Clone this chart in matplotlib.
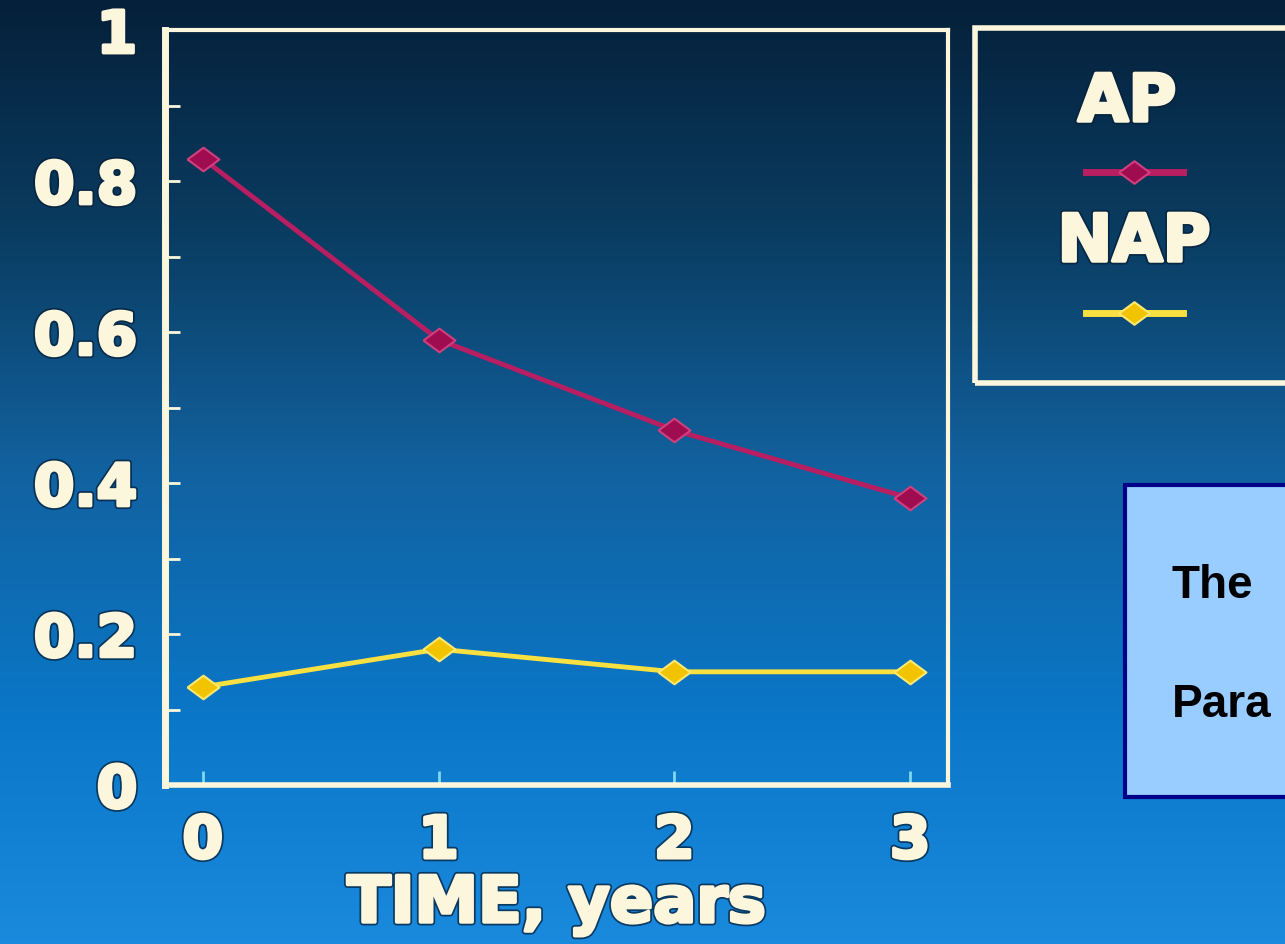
import numpy as np
import matplotlib
matplotlib.use("Agg")
import matplotlib.pyplot as plt
import matplotlib.patheffects as pe
from matplotlib.colors import LinearSegmentedColormap
from matplotlib.patches import Rectangle
from matplotlib.lines import Line2D

years = [0, 1, 2, 3]
ap = [0.83, 0.59, 0.47, 0.38]
nap = [0.13, 0.18, 0.15, 0.15]
y_ticks = [0, 0.2, 0.4, 0.6, 0.8, 1]
y_tick_labels = ["0", "0.2", "0.4", "0.6", "0.8", "1"]

cream = "#fcf7dc"
ap_line = "#b81e62"
ap_fill = "#a00c50"
nap_line = "#f8e040"
nap_fill = "#f2c400"
# heavy lettering with a soft dark halo
heavy = [pe.Stroke(linewidth=5, foreground="#06203a", alpha=0.75),
         pe.Stroke(linewidth=2.5, foreground=cream), pe.Normal()]

plt.rcParams["font.family"] = ["DejaVu Sans"]

fig = plt.figure(figsize=(12.85, 9.44), dpi=100)

# slide background: dark navy at the top fading to bright blue
bg = fig.add_axes([0, 0, 1, 1], zorder=-10)
grad = LinearSegmentedColormap.from_list(
    "slide", ["#05203a", "#0a3d62", "#1262a0", "#0a76c6", "#1a8ade"])
bg.imshow(np.linspace(0, 1, 256).reshape(-1, 1), aspect="auto", cmap=grad,
          extent=[0, 1, 0, 1], origin="upper")
bg.axis("off")

ax = fig.add_axes([0.1284, 0.1684, 0.6093, 0.7996])
ax.patch.set_alpha(0)

diamond = [(-1.35, 0), (0, 1), (1.35, 0), (0, -1), (-1.35, 0)]
ax.plot(years, ap, color=ap_line, lw=3.5, marker=diamond, markersize=23,
        markerfacecolor=ap_fill, markeredgecolor="#d0407e", markeredgewidth=1.5)
ax.plot(years, nap, color=nap_line, lw=3.5, marker=diamond, markersize=23,
        markerfacecolor=nap_fill, markeredgecolor="#ffe870", markeredgewidth=1.5)

ax.set_xlim(-0.16, 3.16)
ax.set_ylim(0, 1)
for side in ["left", "right", "top", "bottom"]:
    ax.spines[side].set_color(cream)
    ax.spines[side].set_linewidth(3)
ax.spines["left"].set_linewidth(5)
ax.spines["bottom"].set_linewidth(4)

ax.set_yticks(y_ticks)
ax.set_yticklabels(y_tick_labels)
ax.set_yticks(np.arange(0.1, 1.0, 0.2), minor=True)
ax.tick_params(axis="y", which="both", direction="in", length=11, width=2,
               color=cream, pad=20)
ax.set_xticks(years)
ax.set_xticklabels([str(v) for v in years])
ax.tick_params(axis="x", direction="in", length=10, width=2, color="#7fd8f0",
               pad=20)
for lab in ax.get_yticklabels() + ax.get_xticklabels():
    lab.set_fontsize(42)
    lab.set_fontweight("bold")
    lab.set_color(cream)
    lab.set_path_effects(heavy)

ax.set_xlabel("TIME, years", fontsize=46, fontweight="bold", color=cream,
              labelpad=3, path_effects=heavy)

# legend panel on the right
fig.patches.append(Rectangle((975 / 1285, 1 - 383 / 944), 0.4, 355 / 944,
                             transform=fig.transFigure, facecolor="none",
                             edgecolor=cream, linewidth=4, zorder=1))
fig.text(1127 / 1285, 1 - 103 / 944, "AP", fontsize=47, fontweight="bold",
         color=cream, ha="center", va="center", path_effects=heavy)
fig.text(1134 / 1285, 1 - 243 / 944, "NAP", fontsize=47, fontweight="bold",
         color=cream, ha="center", va="center", path_effects=heavy)
for yy, lc, fc, ec in [(172, ap_line, ap_fill, "#d0407e"),
                       (313, nap_line, nap_fill, "#ffe870")]:
    fig.lines.append(Line2D([1086 / 1285, 1183 / 1285], [1 - yy / 944] * 2,
                            transform=fig.transFigure, color=lc, lw=5,
                            zorder=2))
    fig.lines.append(Line2D([1134 / 1285], [1 - yy / 944],
                            transform=fig.transFigure, marker=diamond,
                            markersize=22, markerfacecolor=fc,
                            markeredgecolor=ec, markeredgewidth=1.5,
                            zorder=3))

# note box lower right
fig.patches.append(Rectangle((1125 / 1285, 1 - 797 / 944), 0.3, 312 / 944,
                             transform=fig.transFigure, facecolor="#99ccff",
                             edgecolor="#000088", linewidth=3, zorder=1))
fig.text(1172 / 1285, 1 - 586 / 944, "The", fontsize=33, fontweight="bold",
         color="black", ha="left", va="center", family="Liberation Sans")
fig.text(1172 / 1285, 1 - 705 / 944, "Para", fontsize=33, fontweight="bold",
         color="black", ha="left", va="center", family="Liberation Sans")

fig.savefig("out.png", dpi=100)
